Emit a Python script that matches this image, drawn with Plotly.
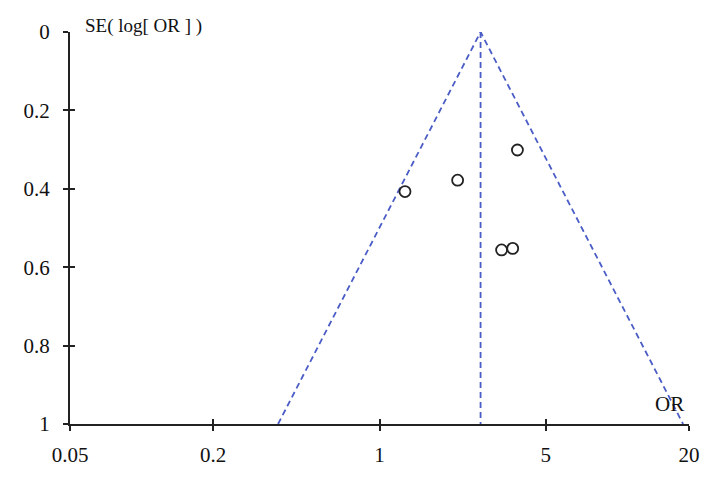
import numpy as np
import plotly.graph_objects as go

study_or = [1.28, 2.13, 3.80, 3.26, 3.63]
study_se = [0.407, 0.378, 0.301, 0.556, 0.552]
pooled_or = 2.66
se_limits = [0, 1]
x_ticks = [0.05, 0.2, 1, 5, 20]
y_ticks = [0, 0.2, 0.4, 0.6, 0.8, 1]

serif = 'Liberation Serif, Noto Sans CJK SC'
blue = '#4a5cc6'
axis_col = '#222222'
x_range = [np.log10(0.05), np.log10(20)]

se_arr = np.array(se_limits)
left = np.exp(np.log(pooled_or) - 1.96 * se_arr)
right = np.exp(np.log(pooled_or) + 1.96 * se_arr)

fig = go.Figure()

fig.add_trace(go.Scatter(
    x=list(left[::-1]) + list(right[1:]),
    y=list(se_arr[::-1]) + list(se_arr[1:]),
    mode='lines',
    line=dict(color=blue, width=1.8, dash='6px,4px'),
    cliponaxis=False,
))
# pooled line drawn on the overlay axes (same ranges) so they get rendered
fig.add_trace(go.Scatter(
    x=[pooled_or, pooled_or],
    y=se_limits,
    mode='lines',
    line=dict(color=blue, width=1.8, dash='6px,4px'),
    cliponaxis=False,
    xaxis='x2',
    yaxis='y2',
))
fig.add_trace(go.Scatter(
    x=study_or,
    y=study_se,
    mode='markers',
    marker=dict(symbol='circle-open', size=11, color=axis_col,
                line=dict(width=1.8)),
))

tick_style = dict(ticklen=5, tickwidth=1.5, tickcolor=axis_col,
                  showgrid=False, zeroline=False)

fig.update_layout(
    width=710,
    height=475,
    plot_bgcolor='white',
    paper_bgcolor='white',
    showlegend=False,
    margin=dict(l=62, r=29, t=20, b=59),
    font=dict(family=serif, size=21, color='#111111'),
    xaxis=dict(
        type='log', range=x_range,
        tickvals=x_ticks, ticktext=[str(v) for v in x_ticks],
        ticks='outside', showline=True, linecolor=axis_col, linewidth=2,
        ticklabelstandoff=6, **tick_style,
    ),
    yaxis=dict(
        range=[1, 0],
        tickvals=y_ticks, ticktext=['0', '0.2', '0.4', '0.6', '0.8', '1'],
        ticks='outside', showline=True, linecolor=axis_col, linewidth=2,
        ticklabelstandoff=9, **tick_style,
    ),
    xaxis2=dict(
        type='log', overlaying='x', side='bottom', range=x_range,
        tickvals=x_ticks, ticks='inside', showticklabels=False,
        **tick_style,
    ),
    yaxis2=dict(
        overlaying='y', side='left', range=[1, 0],
        tickvals=y_ticks, ticks='inside', showticklabels=False,
        **tick_style,
    ),
)

fig.add_annotation(
    text='SE( log[ OR ] )', xref='paper', yref='paper',
    x=0, y=1.0, xanchor='left', yanchor='middle', xshift=13, yshift=6,
    showarrow=False, font=dict(family=serif, size=19),
)
fig.add_annotation(
    text='OR', xref='paper', yref='paper',
    x=1, y=0, xanchor='right', yanchor='bottom', xshift=-3, yshift=6,
    showarrow=False, font=dict(family=serif, size=21),
)

fig.write_html("out.html")
